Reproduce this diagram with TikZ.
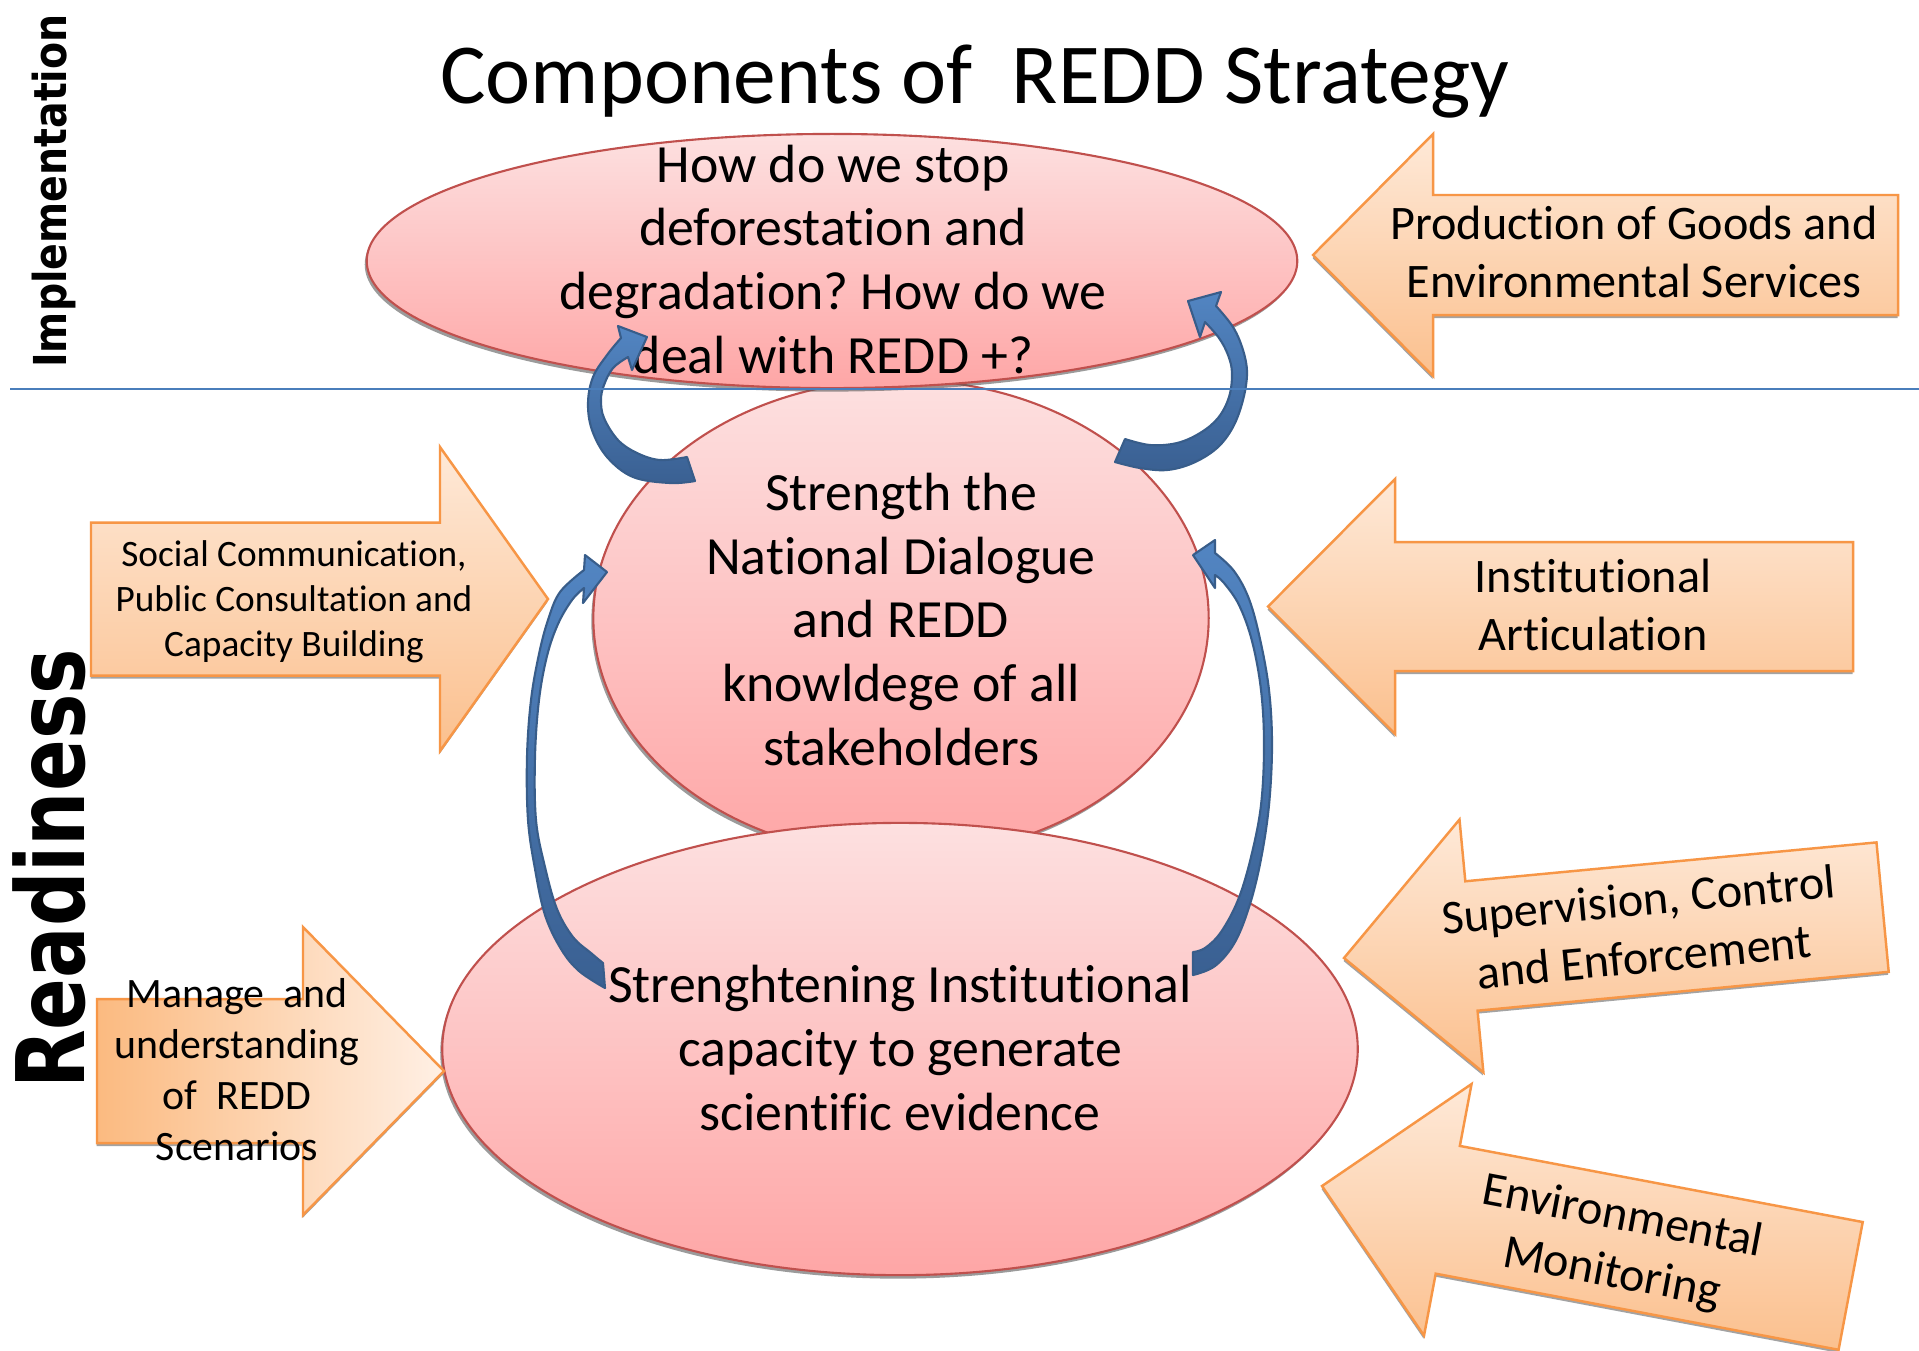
\documentclass[tikz,border=0pt]{standalone}
\usepackage{fontspec}
\setmainfont[Ligatures=NoCommon]{Carlito}
\newfontfamily\headfont{DejaVu Sans}
\usetikzlibrary{shapes.geometric,shadows}
\frenchspacing
\definecolor{elltop}{RGB}{253,224,224}
\definecolor{ellbot}{RGB}{254,166,166}
\definecolor{elledge}{RGB}{192,80,77}
\definecolor{arrtop}{RGB}{254,233,216}
\definecolor{arrbot}{RGB}{251,192,142}
\definecolor{arrdark}{RGB}{251,186,128}
\definecolor{arrlight}{RGB}{255,240,229}
\definecolor{arredge}{RGB}{247,150,70}
\definecolor{bluefill}{RGB}{82,133,194}
\definecolor{bluedark}{RGB}{58,96,146}
\definecolor{blueedge}{RGB}{56,93,138}
\definecolor{linecol}{RGB}{74,126,187}
\begin{document}
\begin{tikzpicture}[x=0.01cm,y=-0.01cm,
  ell/.style={ellipse, draw=elledge, line width=0.6pt, top color=elltop, bottom color=ellbot, inner sep=0pt,
    drop shadow={shadow xshift=-0.02cm, shadow yshift=-0.035cm, opacity=0.6, fill=black!65}},
  orarr/.style={draw=arredge, line width=0.7pt, top color=arrtop, bottom color=arrbot,
    drop shadow={shadow xshift=-0.005cm, shadow yshift=-0.03cm, opacity=0.6, fill=black!60}},
  bluearr/.style={draw=blueedge, line width=0.6pt, line join=round, top color=bluefill, bottom color=bluedark},
  etext/.style={font=\fontsize{15.3}{18.07}\selectfont, align=center, inner sep=0pt},
  atext/.style={font=\fontsize{13.7}{16.36}\selectfont, align=center, inner sep=0pt},
  stext/.style={font=\fontsize{10.6}{12.66}\selectfont, align=center, inner sep=0pt},
  mtext/.style={font=\fontsize{11.9}{14.5}\selectfont, align=center, inner sep=0pt},
  sidelabel/.style={font=\headfont\bfseries, rotate=90, anchor=base, inner sep=0pt}
]
\useasboundingbox (0,0) rectangle (1919,1350);
\fill[white] (0,0) rectangle (1919,1350);

% ---- ellipses
\node[ell, minimum width=6.15cm, minimum height=4.76cm] (mid) at (901,618) {};
\node[ell, minimum width=9.30cm, minimum height=2.54cm] (top) at (832,261) {};
\node[ell, minimum width=9.15cm, minimum height=4.52cm] (bot) at (900,1049) {};

% (base anchor = baseline of the last line)
\node[etext, anchor=base] (toptxt) at (833,373) {How do we stop\\deforestation and\\degradation? How do we\\deal with REDD +?};
\node[etext, anchor=base] (midtxt) at (901,765) {Strength the\\National Dialogue\\and REDD\\knowldege of all\\stakeholders};
\node[etext, anchor=base] (bottxt) at (900,1130) {Strenghtening Institutional\\capacity to generate\\scientific evidence};

% ---- orange block arrows
\begin{scope}[shift={(1313,255)}]
\path[orarr] (0,0) -- (120,-121) -- (120,-60) -- (585,-60) -- (585,60) -- (120,60) -- (120,121) -- cycle;
\end{scope}
\node[atext, anchor=base] (prodtxt) at (1634,297.5) {Production of Goods and\\Environmental Services};

\begin{scope}[shift={(1268,606.5)}]
\path[orarr] (0,0) -- (127,-127.5) -- (127,-64.5) -- (585,-64.5) -- (585,64.5) -- (127,64.5) -- (127,127.5) -- cycle;
\end{scope}
\node[atext, anchor=base] (insttxt) at (1593,650.5) {Institutional\\Articulation};

\begin{scope}[shift={(1344,958)}, rotate=5.4]
\path[orarr] (0,0) -- (128,-127) -- (128,-65) -- (541,-65) -- (541,65) -- (128,65) -- (128,127) -- cycle;
\end{scope}
\node[atext, anchor=base, rotate=5.4] (suptxt) at (1645.4,973.2) {Supervision, Control\\and Enforcement};

\begin{scope}[shift={(1322,1186)}, rotate=-10.7]
\path[orarr] (0,0) -- (128,-128) -- (128,-65) -- (538,-65) -- (538,65) -- (128,65) -- (128,128) -- cycle;
\end{scope}
\node[atext, anchor=base, rotate=-10.7] (envtxt) at (1609.3,1286.5) {Environmental\\Monitoring};

\begin{scope}[shift={(548,599)}]
\path[orarr] (0,0) -- (-108,-152) -- (-108,-76.5) -- (-457,-76.5) -- (-457,76.5) -- (-108,76.5) -- (-108,152) -- cycle;
\end{scope}
\node[stext, anchor=base] (soctxt) at (294,656) {Social Communication,\\Public Consultation and\\Capacity Building};

\begin{scope}[shift={(444,1071)}]
\path[orarr, left color=arrdark, right color=arrlight] (0,0) -- (-141,-144) -- (-141,-72) -- (-347,-72) -- (-347,72) -- (-141,72) -- (-141,144) -- cycle;
\end{scope}
\node[mtext, anchor=base] (mantxt) at (237,1160) {Manage~ and\\understanding\\of~ REDD\\Scenarios};

% ---- blue curved arrows
\coordinate (aTail) at (691,469);
\path[bluearr] plot[smooth,tension=0.6] coordinates {(695,481) (670,483) (633,477) (607,457) (592,430) (588,403) (593,377) (607,355) (621,338)}
  -- (618,326) -- (647,337) -- (632,370) -- (628,357)
  -- plot[smooth,tension=0.6] coordinates {(628,357) (613,368) (604,385) (601,400) (604,418) (618,440) (637,453) (660,460) (687,457)} -- cycle;

\coordinate (bTail) at (1120,450);
\path[bluearr] plot[smooth,tension=0.6] coordinates {(1115,462) (1140,468) (1167,470) (1193,463) (1217,448) (1233,427) (1243,400) (1247,373) (1243,350) (1233,327) (1216,306)}
  -- (1221,292) -- (1188,301) -- (1200,337) -- (1205,322)
  -- plot[smooth,tension=0.6] coordinates {(1205,322) (1219,338) (1228,355) (1232,373) (1229,397) (1218,418) (1200,433) (1177,443) (1150,445) (1125,439)} -- cycle;

\coordinate (cTail) at (604,975);
\path[bluearr] plot[smooth,tension=0.6] coordinates {(605,988) (579,971) (561,949) (545,915) (535,869) (528,820) (527,757) (531,700) (539,654) (548,620) (560,592) (584,570)}
  -- (585,555) -- (607,572) -- (583,603) -- (584,588)
  -- plot[smooth,tension=0.6] coordinates {(584,588) (572,600) (558,624) (547,656) (539,700) (535,757) (536,820) (545,867) (557,909) (573,937) (591,953) (603,963)} -- cycle;

\coordinate (dTail) at (1193,963);
\path[bluearr] plot[smooth,tension=0.6] coordinates {(1193,975) (1215,966) (1235,942) (1250,904) (1261,859) (1269,805) (1272,745) (1269,690) (1260,639) (1249,599) (1234,571) (1215,553)}
  -- (1215,540) -- (1193,555) -- (1215,588) -- (1215,575)
  -- plot[smooth,tension=0.6] coordinates {(1215,575) (1224,583) (1239,605) (1252,641) (1261,690) (1264,745) (1261,805) (1251,857) (1238,900) (1221,932) (1205,948) (1193,952)} -- cycle;

% ---- divider line
\coordinate (lineL) at (10,389);
\coordinate (lineR) at (1919,389);
\draw[linecol, line width=0.55pt] (lineL) -- (lineR);

% ---- titles
\node[font=\fontsize{24.3}{29}\selectfont, anchor=base, inner sep=0pt] (title) at (975,103) {Components of~ REDD Strategy};
\node[sidelabel, font=\headfont\bfseries\fontsize{12.9}{15}\selectfont] (impl) at (67,191) {\scalebox{0.87}[1]{Implementation}};
\node[sidelabel, font=\headfont\bfseries\fontsize{26.9}{30}\selectfont] (ready) at (84,869) {\scalebox{0.807}[1]{Readiness}};
\end{tikzpicture}
\end{document}
